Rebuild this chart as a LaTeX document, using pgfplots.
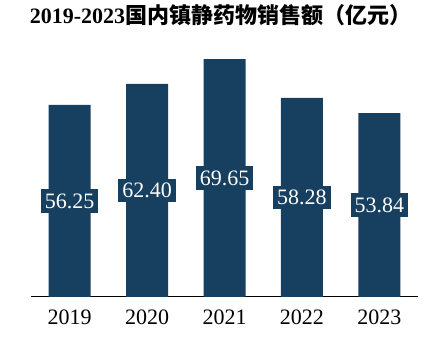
\documentclass[border=0pt]{standalone}
\usepackage{fontspec}
\setmainfont{Liberation Serif}
\newfontfamily\cjk{Noto Sans CJK SC}
\usepackage{pgfplots}
\usepackage{pgfplotstable}
\pgfplotsset{compat=1.18}
\definecolor{barcol}{RGB}{23,63,95}
\pgfplotstableread{
x label value
0 2019 56.25
1 2020 62.40
2 2021 69.65
3 2022 58.28
4 2023 53.84
}\datatable
\begin{document}
\begin{tikzpicture}
\begin{axis}[
  scale only axis, width=387pt, height=246pt,
  xmin=-0.5, xmax=4.5, ymin=0, ymax=72,
  axis y line=none, axis x line*=bottom,
  x axis line style={black, line width=1pt, -},
  xtick=data, xticklabels={2019,2020,2021,2022,2023},
  major tick length=0pt,
  xticklabel style={font=\fontsize{22}{24}\selectfont, inner sep=0pt, yshift=-13pt},
  ybar, bar width=42pt,
  clip=false,
  nodes near coords, point meta=explicit symbolic,
  visualization depends on={y \as \rawy},
  every node near coord/.append style={anchor=center, shift={(axis direction cs:0,-\rawy/2)},
    fill=barcol, text=white, font=\fontsize{22}{24}\selectfont,
    inner xsep=4pt, inner ysep=4.5pt, text height=14.6pt, text depth=0pt},
]
\addplot[fill=barcol, draw=none] table[x=x, y=value, meta=value]{\datatable};
\node[anchor=center, yshift=36pt, xshift=-4pt, font=\fontsize{22}{24}\selectfont, inner sep=0pt]
  at (rel axis cs:0.5,1) {\textbf{2019-2023}{\cjk\bfseries 国内镇静药物销售额（亿元）}};
\end{axis}
\pgfresetboundingbox
\path ([xshift=-31pt,yshift=-43pt]current axis.south west) rectangle ([xshift=27pt,yshift=51pt]current axis.north east);
\end{tikzpicture}
\end{document}
